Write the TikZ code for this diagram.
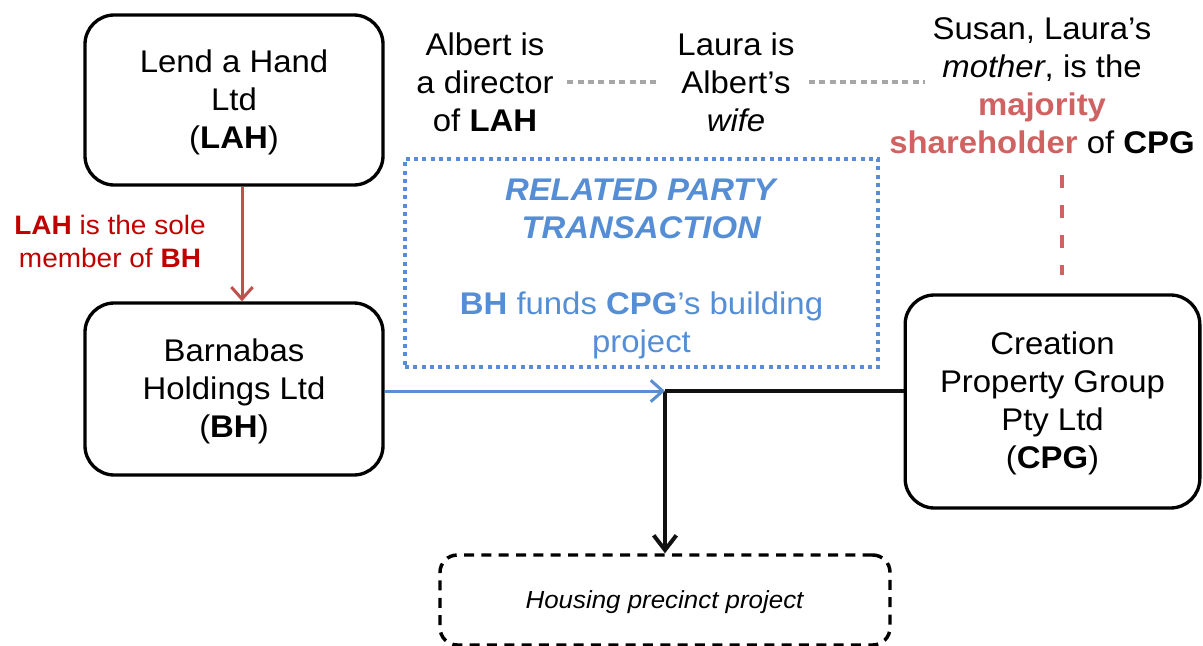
\documentclass[tikz,border=0pt]{standalone}
\usepackage{fontspec}
\setmainfont{Liberation Sans}[FakeStretch=1.05]
\usetikzlibrary{arrows.meta}
\definecolor{redT}{RGB}{192,0,0}
\definecolor{redA}{RGB}{192,80,77}
\definecolor{salmon}{RGB}{208,98,98}
\definecolor{blueC}{RGB}{85,142,213}
\definecolor{blueA}{RGB}{91,142,208}
\definecolor{grayD}{RGB}{166,166,166}
\definecolor{blackL}{RGB}{17,17,17}
\newcommand\mainsize{\fontsize{23.5}{28.5}\selectfont}
\newcommand\redsize{\fontsize{20}{24.75}\selectfont}
\newcommand\housesize{\fontsize{18.5}{24}\selectfont}
\newcommand\upstrut[1]{\rule{0pt}{#1}}
\begin{document}
\begin{tikzpicture}[x=0.75pt,y=-0.75pt,
  box/.style={draw=black, line width=2.5pt, rounded corners=22pt, align=center, font=\mainsize, inner sep=0pt},
  housebox/.style={draw=black, line width=2.6pt, rounded corners=13pt, dash pattern=on 7.5pt off 5.5pt, align=center, font=\housesize, inner sep=0pt},
  rptbox/.style={draw=blueC, line width=3pt, dash pattern=on 3pt off 3.2pt, align=center, font=\mainsize, text=blueC, inner sep=0pt},
  plain/.style={align=center, font=\mainsize, inner sep=0pt},
  redlabel/.style={align=center, font=\redsize, text=redT, inner sep=0pt},
  graydot/.style={draw=grayD, line width=3pt, dash pattern=on 4.5pt off 3.3pt},
  reddash/.style={draw=salmon, line width=3pt, dash pattern=on 10pt off 12.5pt},
  redarrow/.style={draw=redA, line width=2.25pt, -{Straight Barb[length=9pt,width=16pt,line width=2.25pt]}},
  bluearrow/.style={draw=blueA, line width=2.25pt, -{Straight Barb[length=9pt,width=16pt,line width=2.25pt]}},
  blackarrow/.style={draw=blackL, line width=3pt, -{Straight Barb[length=11pt,width=17pt,line width=3pt]}},
  blackline/.style={draw=blackL, line width=3pt}
]
\useasboundingbox (0,0) rectangle (1203,646);

% boxes
\node[box, minimum width=223.5pt, minimum height=127.5pt] (lah) at (234,100) {\upstrut{21pt}Lend a Hand\\Ltd\\(\textbf{LAH})};
\node[box, minimum width=223.5pt, minimum height=129pt] (bh) at (234,389) {\upstrut{20pt}Barnabas\\Holdings Ltd\\(\textbf{BH})};
\node[box, minimum width=221pt, minimum height=159.75pt] (cpg) at (1052.5,401.5) {\upstrut{20pt}Creation\\Property Group\\Pty Ltd\\(\textbf{CPG})};
\node[housebox, minimum width=337.5pt, minimum height=67.5pt] (house) at (665,600) {\upstrut{17pt}\textit{Housing precinct project}};
\node[rptbox, minimum width=354.75pt, minimum height=156pt] (rpt) at (641.5,263)
  {\upstrut{25pt}\textbf{\textit{RELATED PARTY}}\\\textbf{\textit{TRANSACTION}}\\[28.5pt]\textbf{BH} funds \textbf{CPG}’s building\\project};

% texts
\node[plain] (albert) at (485,82) {Albert is\\a director\\of \textbf{LAH}};
\node[plain] (laura) at (736,82) {Laura is\\Albert’s\\\textit{wife}};
\node[plain] (susan) at (1042,86) {Susan, Laura’s\\\textit{mother}, is the\\\textbf{\textcolor{salmon}{majority}}\\\textbf{\textcolor{salmon}{shareholder}} of \textbf{CPG}};
\node[redlabel] (redlbl) at (110,241) {\textbf{LAH} is the sole\\member of \textbf{BH}};

% coordinates
\coordinate (sgray) at (925,80);
\coordinate (rd) at (1062,175);
\coordinate (j) at (665,391);

% connectors
\draw[graydot, shorten <=10pt, shorten >=13pt] (albert.east) -- (albert.east -| laura.west);
\draw[graydot, shorten <=10.5pt] (laura.east) -- (laura.east -| sgray);
\draw[reddash, shorten >=13.5pt] (rd) -- (rd |- cpg.north);
\draw[redarrow] ([xshift=6pt]lah.south) -- ([xshift=6pt]bh.north);
\draw[blackline] (cpg.west |- j) -- (j);
\draw[blackarrow] (j) -- (house.north);
\draw[bluearrow] (bh.east |- j) -- (j);
\end{tikzpicture}
\end{document}
